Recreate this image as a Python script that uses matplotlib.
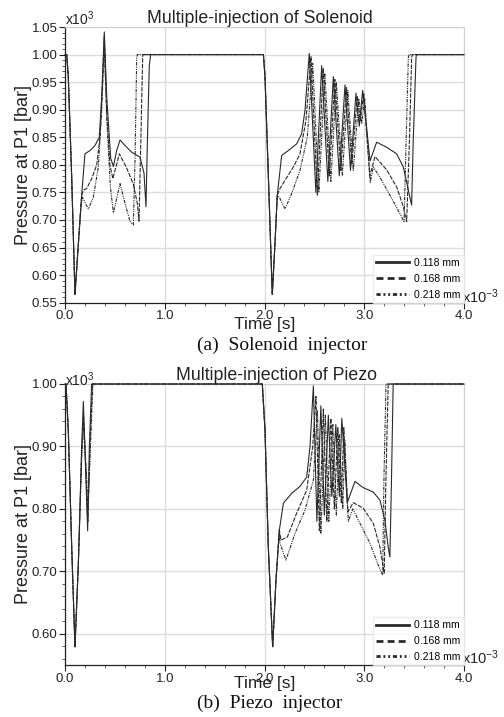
import matplotlib
matplotlib.use("Agg")
import matplotlib.pyplot as plt
from matplotlib.ticker import MultipleLocator, FormatStrFormatter

plt.rcParams['font.family'] = ['Liberation Sans', 'DejaVu Sans']
plt.rcParams['mathtext.default'] = 'regular'

labels = ['0.118 mm', '0.168 mm', '0.218 mm']

# ---------------- Solenoid injector (time in ms, pressure in 10^3 bar) ----------------
sol_t_118 = [0.0, 0.017, 0.033, 0.067, 0.100, 0.134, 0.167, 0.200, 0.251, 0.300, 0.344, 0.368, 0.394,
             0.418, 0.458, 0.485, 0.518, 0.552, 0.602, 0.668, 0.752, 0.792, 0.812, 0.825, 0.845, 0.859,
             1.989, 2.005, 2.039, 2.078, 2.105, 2.128, 2.172, 2.239, 2.322, 2.372, 2.406, 2.449,
             2.515, 2.573, 2.635, 2.690, 2.750, 2.807, 2.862, 2.917, 2.950, 2.984, 3.058, 3.124,
             3.224, 3.325, 3.392, 3.442, 3.475, 3.490, 3.519, 3.525, 4.0]
sol_p_118 = [1.0, 1.0, 0.96, 0.778, 0.565, 0.657, 0.745, 0.820, 0.826, 0.835, 0.850, 0.924, 1.041,
             0.924, 0.812, 0.797, 0.826, 0.845, 0.835, 0.823, 0.814, 0.785, 0.724, 0.835, 0.980, 1.0,
             1.0, 0.96, 0.778, 0.565, 0.657, 0.745, 0.817, 0.826, 0.838, 0.856, 0.899, 1.002,
             0.750, 0.980, 0.770, 0.960, 0.780, 0.945, 0.790, 0.930, 0.870, 0.935, 0.807, 0.841,
             0.832, 0.820, 0.796, 0.754, 0.727, 0.838, 0.995, 1.0, 1.0]

sol_t_168 = [0.0, 0.017, 0.033, 0.067, 0.100, 0.134, 0.167, 0.184, 0.217, 0.268, 0.318, 0.351, 0.374, 0.394,
             0.418, 0.450, 0.480, 0.545, 0.619, 0.685, 0.725, 0.742, 0.759, 0.779, 0.785,
             1.989, 2.005, 2.039, 2.078, 2.105, 2.128, 2.155, 2.206, 2.289, 2.356, 2.416, 2.466,
             2.530, 2.588, 2.650, 2.705, 2.765, 2.822, 2.875, 2.930, 2.960, 2.995, 3.055, 3.108,
             3.224, 3.325, 3.392, 3.425, 3.452, 3.475, 3.482, 4.0]
sol_p_168 = [1.0, 1.0, 0.96, 0.778, 0.565, 0.657, 0.745, 0.754, 0.757, 0.775, 0.800, 0.850, 0.942, 1.032,
             0.894, 0.800, 0.775, 0.820, 0.794, 0.765, 0.730, 0.698, 0.835, 0.997, 1.0,
             1.0, 0.96, 0.778, 0.565, 0.657, 0.745, 0.757, 0.772, 0.796, 0.820, 0.881, 0.996,
             0.745, 0.975, 0.780, 0.955, 0.790, 0.940, 0.800, 0.925, 0.880, 0.930, 0.780, 0.815,
             0.791, 0.760, 0.724, 0.697, 0.838, 0.995, 1.0, 1.0]

sol_t_218 = [0.0, 0.017, 0.033, 0.067, 0.100, 0.134, 0.160, 0.175, 0.234, 0.284, 0.334, 0.368, 0.394,
             0.420, 0.455, 0.485, 0.552, 0.602, 0.652, 0.685, 0.702, 0.719, 0.725,
             1.989, 2.005, 2.039, 2.078, 2.105, 2.128, 2.149, 2.206, 2.272, 2.356, 2.429, 2.483,
             2.545, 2.605, 2.665, 2.720, 2.780, 2.835, 2.890, 2.945, 2.975, 3.005, 3.060, 3.091,
             3.175, 3.275, 3.359, 3.399, 3.419, 3.442, 3.450, 4.0]
sol_p_218 = [1.0, 1.0, 0.96, 0.778, 0.565, 0.657, 0.725, 0.741, 0.720, 0.741, 0.796, 0.899, 1.014,
             0.880, 0.760, 0.713, 0.766, 0.730, 0.697, 0.691, 0.809, 0.995, 1.0,
             1.0, 0.96, 0.778, 0.565, 0.657, 0.745, 0.741, 0.720, 0.748, 0.790, 0.850, 0.984,
             0.750, 0.965, 0.770, 0.950, 0.780, 0.935, 0.790, 0.920, 0.875, 0.920, 0.768, 0.796,
             0.772, 0.739, 0.711, 0.697, 0.838, 0.995, 1.0, 1.0]

# ---------------- Piezo injector ----------------
pz_t_118 = [0.0, 0.010, 0.033, 0.067, 0.100, 0.134, 0.167, 0.184, 0.210, 0.227, 0.244, 0.267,
            1.978, 2.005, 2.038, 2.082, 2.115, 2.149, 2.189, 2.273, 2.356, 2.423, 2.456, 2.490,
            2.525, 2.565, 2.600, 2.640, 2.675, 2.715, 2.750, 2.775, 2.830, 2.907, 2.990, 3.090,
            3.157, 3.207, 3.240, 3.257, 3.273, 3.290, 4.0]
pz_p_118 = [1.0, 1.0, 0.926, 0.740, 0.579, 0.713, 0.899, 0.972, 0.846, 0.765, 0.899, 1.0,
            1.0, 0.926, 0.740, 0.579, 0.686, 0.766, 0.809, 0.825, 0.836, 0.851, 0.899, 0.997,
            0.780, 0.965, 0.790, 0.950, 0.820, 0.935, 0.820, 0.945, 0.810, 0.844, 0.834, 0.827,
            0.814, 0.782, 0.739, 0.723, 0.846, 1.0, 1.0]

pz_t_168 = [0.0, 0.010, 0.033, 0.067, 0.100, 0.134, 0.167, 0.186, 0.212, 0.229, 0.250, 0.275,
            1.978, 2.005, 2.038, 2.082, 2.115, 2.149, 2.165, 2.229, 2.322, 2.423, 2.483, 2.516,
            2.550, 2.590, 2.625, 2.665, 2.700, 2.735, 2.770, 2.795, 2.835, 2.890, 2.990, 3.090,
            3.157, 3.200, 3.217, 3.240, 4.0]
pz_p_168 = [1.0, 1.0, 0.926, 0.740, 0.579, 0.713, 0.890, 0.950, 0.850, 0.780, 0.899, 1.0,
            1.0, 0.926, 0.740, 0.579, 0.686, 0.766, 0.750, 0.755, 0.793, 0.830, 0.899, 0.980,
            0.765, 0.960, 0.780, 0.945, 0.800, 0.930, 0.810, 0.930, 0.795, 0.810, 0.801, 0.777,
            0.739, 0.697, 0.846, 1.0, 1.0]

pz_t_218 = [0.0, 0.010, 0.033, 0.067, 0.100, 0.134, 0.167, 0.188, 0.214, 0.231, 0.255, 0.280,
            1.978, 2.005, 2.038, 2.082, 2.115, 2.149, 2.155, 2.215, 2.306, 2.406, 2.490, 2.530,
            2.565, 2.610, 2.645, 2.685, 2.720, 2.750, 2.785, 2.805, 2.840, 2.885, 2.957, 3.057,
            3.140, 3.185, 3.197, 3.218, 4.0]
pz_p_218 = [1.0, 1.0, 0.926, 0.740, 0.579, 0.713, 0.880, 0.935, 0.860, 0.800, 0.899, 1.0,
            1.0, 0.926, 0.740, 0.579, 0.686, 0.766, 0.745, 0.718, 0.761, 0.798, 0.846, 0.958,
            0.760, 0.950, 0.780, 0.935, 0.790, 0.920, 0.800, 0.910, 0.780, 0.800, 0.777, 0.745,
            0.710, 0.694, 0.846, 1.0, 1.0]

styles = ['-', (0, (4, 1.2)), (0, (3, 1, 1, 1, 1, 1))]
legend_styles = ['-', (0, (2.5, 1.5)), (0, (1.5, 1.0, 0.7, 1.0, 0.7, 1.0))]

W, H = 504, 717
fig = plt.figure(figsize=(W / 100, H / 100), dpi=100)
ax1 = fig.add_axes([65 / W, 1 - 302.7 / H, 399 / W, 275.7 / H])
ax2 = fig.add_axes([65 / W, 1 - 665 / H, 399 / W, 281 / H])


def style_axes(ax, ylo, yhi, ymaj, ymin, title, tx):
    ax.set_xlim(0, 4.0)
    ax.set_ylim(ylo, yhi)
    ax.xaxis.set_major_locator(MultipleLocator(1.0))
    ax.xaxis.set_minor_locator(MultipleLocator(0.2))
    ax.yaxis.set_major_locator(MultipleLocator(ymaj))
    ax.yaxis.set_minor_locator(MultipleLocator(ymin))
    ax.xaxis.set_major_formatter(FormatStrFormatter('%.1f'))
    ax.yaxis.set_major_formatter(FormatStrFormatter('%.2f'))
    ax.grid(True, which='major', color='#dcdcdc', lw=1.0)
    ax.set_axisbelow(True)
    ax.tick_params(axis='both', which='major', labelsize=9.5, colors='#222222', length=4, width=0.8, pad=1.5)
    ax.tick_params(axis='both', which='minor', length=2.2, width=0.6, colors='#444444')
    for s in ['top', 'right']:
        ax.spines[s].set_color('#d0d0d0')
    for s in ['left', 'bottom']:
        ax.spines[s].set_color('#222222')
        ax.spines[s].set_linewidth(0.9)
    ax.text(tx, 1.0, title, transform=ax.transAxes, ha='center', va='bottom',
            fontsize=12.8, color='#222222')
    ax.set_ylabel('Pressure at P1 [bar]', fontsize=13, color='#222222')
    ax.yaxis.set_label_coords(-0.083, 0.5)
    ax.set_xlabel('Time [s]', fontsize=12.5, color='#222222')
    leg = ax.legend(loc='lower right', bbox_to_anchor=(1.0, 0.0), fontsize=7.5, frameon=True,
                    fancybox=False, edgecolor='#e8e8e8', handlelength=3.2, handletextpad=0.5,
                    labelspacing=0.55, borderpad=0.3, borderaxespad=0.0)
    for ln, ls in zip(leg.get_lines(), legend_styles):
        ln.set_linewidth(2.0)
        ln.set_linestyle(ls)
    return leg


for t, p, ls, lab in zip([sol_t_118, sol_t_168, sol_t_218], [sol_p_118, sol_p_168, sol_p_218], styles, labels):
    ax1.plot(t, p, ls=ls, lw=0.8, color='#2a2a2a', label=lab, clip_on=False, zorder=3)
for t, p, ls, lab in zip([pz_t_118, pz_t_168, pz_t_218], [pz_p_118, pz_p_168, pz_p_218], styles, labels):
    ax2.plot(t, p, ls=ls, lw=0.8, color='#2a2a2a', label=lab, clip_on=False, zorder=3)

style_axes(ax1, 0.55, 1.05, 0.05, 0.01, 'Multiple-injection of Solenoid', 0.489)
style_axes(ax2, 0.55, 1.00, 0.10, 0.02, 'Multiple-injection of Piezo', 0.531)

ax1.xaxis.label.set_va('center')
ax1.xaxis.set_label_coords(0.5, -0.078)
ax2.xaxis.label.set_va('center')
ax2.xaxis.set_label_coords(0.5, -0.067)

# exponent annotations
ax1.text(0.0, 1.029, 'x10$^{3}$', transform=ax1.transAxes, ha='left', va='center', fontsize=10, color='#222222')
ax2.text(0.0, 1.016, 'x10$^{3}$', transform=ax2.transAxes, ha='left', va='center', fontsize=10, color='#222222')
ax1.text(0.995, 0.022, 'x10$^{-3}$', transform=ax1.transAxes, ha='left', va='center', fontsize=10.5, color='#222222')
ax2.text(0.995, 0.026, 'x10$^{-3}$', transform=ax2.transAxes, ha='left', va='center', fontsize=10.5, color='#222222')

fig.text(282 / W, 1 - 345 / H, '(a)  Solenoid  injector', family='Liberation Serif', fontsize=14,
         ha='center', va='center', color='#111111')
fig.text(270 / W, 1 - 703 / H, '(b)  Piezo  injector', family='Liberation Serif', fontsize=14,
         ha='center', va='center', color='#111111')

fig.savefig('out.png', dpi=100)
